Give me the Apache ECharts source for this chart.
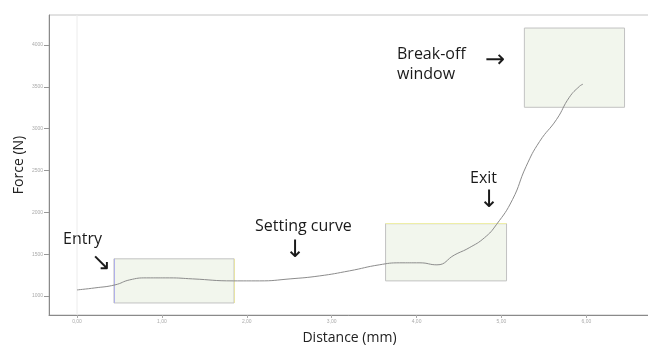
<!DOCTYPE html>
<html>
<head>
<meta charset="utf-8">
<script src="https://cdn.jsdelivr.net/npm/echarts@6/dist/echarts.min.js"></script>
<style>
html,body{margin:0;padding:0;background:#fff;}
#chart{width:648px;height:347px;}
</style>
</head>
<body>
<div id="chart"></div>
<script>
// Measured force vs. distance during the pressing cycle
const distance = [0, 0.21, 0.447, 0.62, 0.82, 1.09, 1.36, 1.84, 2.15, 2.51, 2.86, 3.21, 3.56, 3.80, 4.04, 4.24, 4.45, 4.62, 4.80, 4.94, 5.13, 5.29, 5.45, 5.65, 5.80, 5.92, 5.96];
const force    = [1072, 1096, 1132, 1192, 1216, 1216, 1204, 1180, 1180, 1204, 1240, 1300, 1372, 1396, 1396, 1372, 1492, 1576, 1696, 1852, 2152, 2548, 2848, 3112, 3376, 3508, 3532];

// Tick positions on both axes
const xTicks = [0, 1, 2, 3, 4, 5, 6];
const yTicks = [1000, 1500, 2000, 2500, 3000, 3500, 4000];

// Monitoring windows: [xFrom, yFrom, xTo, yTo]
const entryWindow    = [0.435, 916, 1.85, 1444];
const exitWindow     = [3.635, 1180, 5.06, 1864];
const breakOffWindow = [5.27, 3256, 6.45, 4204];

const labels = {
  entry: 'Entry',
  setting: 'Setting curve',
  exit: 'Exit',
  breakOff: 'Break-off\nwindow',
  xName: 'Distance (mm)',
  yName: 'Force (N)'
};

const FONT = '"Open Sans", "Noto Sans", sans-serif';
const ARROW_FONT = '24px "DejaVu Sans"';

function box(w) {
  return [{ coord: [w[0], w[1]] }, { coord: [w[2], w[3]] }];
}

const chart = echarts.init(document.getElementById('chart'), null, { renderer: 'canvas' });

chart.setOption({
  backgroundColor: '#fff',
  animation: false,
  grid: {
    left: 49, right: -2, top: 15, bottom: 32,
    outerBoundsMode: 'none',
    show: true, borderColor: '#c4c4c4', borderWidth: 1
  },
  xAxis: {
    type: 'value',
    min: -0.33, max: 6.75,
    axisLine: { show: true, onZero: false, lineStyle: { color: '#8a8a8a' } },
    axisTick: { show: true, length: 3, customValues: xTicks, lineStyle: { color: '#aaa' } },
    axisLabel: {
      customValues: xTicks, fontSize: 5, color: '#aaa', margin: 4,
      formatter: v => v.toFixed(2).replace('.', ',')
    },
    splitLine: { show: false },
    name: labels.xName, nameLocation: 'middle', nameGap: 16, nameMoveOverlap: false,
    nameTextStyle: { fontFamily: FONT, fontSize: 14, color: '#222' }
  },
  yAxis: {
    type: 'value',
    min: 772, max: 4360,
    axisLine: { show: true, onZero: false, lineStyle: { color: '#8a8a8a' } },
    axisTick: { show: true, length: 5, customValues: yTicks, lineStyle: { color: '#999' } },
    axisLabel: { customValues: yTicks, fontSize: 5, color: '#aaa', margin: 6, formatter: v => String(v) },
    splitLine: { show: false },
    name: labels.yName, nameLocation: 'middle', nameGap: 23, nameRotate: 90, nameMoveOverlap: false,
    nameTextStyle: { fontFamily: FONT, fontSize: 14, color: '#222' }
  },
  series: [
    {
      type: 'line',
      data: distance.map((d, i) => [d, force[i]]),
      smooth: 0.5,
      symbol: 'none',
      lineStyle: { color: '#8c8c8c', width: 1 },
      z: 5,
      markArea: {
        silent: true,
        itemStyle: { color: 'rgba(230,238,220,0.5)', borderColor: '#c2c2c2', borderWidth: 1 },
        data: [box(entryWindow), box(exitWindow), box(breakOffWindow)]
      },
      markLine: {
        silent: true, symbol: 'none', label: { show: false },
        data: [
          [{ coord: [entryWindow[0], entryWindow[1]], lineStyle: { color: '#b0b0ea', type: 'solid', width: 1 } },
           { coord: [entryWindow[0], entryWindow[3]] }],
          [{ coord: [entryWindow[2], entryWindow[1]], lineStyle: { color: '#e8e4a4', type: 'solid', width: 1 } },
           { coord: [entryWindow[2], entryWindow[3]] }],
          [{ coord: [exitWindow[0], exitWindow[3]], lineStyle: { color: '#eeeea6', type: 'solid', width: 1 } },
           { coord: [exitWindow[2], exitWindow[3]] }]
        ]
      }
    },
    {
      // faint vertical guide at the first tick
      type: 'line', symbol: 'none', silent: true,
      data: [[0, 772], [0, 4360]],
      lineStyle: { color: '#ececec', width: 1 }, z: 1
    }
  ],
  graphic: [
    { type: 'text', left: 63, top: 231, style: { text: labels.entry, font: '16px ' + FONT, fill: '#1a1a1a' } },
    { type: 'text', left: 91, top: 252, style: { text: '\u2198', font: ARROW_FONT, fill: '#1a1a1a' } },
    { type: 'text', left: 255, top: 218, style: { text: labels.setting, font: '16px ' + FONT, fill: '#1a1a1a' } },
    { type: 'text', left: 285, top: 239, style: { text: '\u2193', font: ARROW_FONT, fill: '#1a1a1a' } },
    { type: 'text', left: 470, top: 170, style: { text: labels.exit, font: '16px ' + FONT, fill: '#1a1a1a' } },
    { type: 'text', left: 479, top: 189, style: { text: '\u2193', font: ARROW_FONT, fill: '#1a1a1a' } },
    { type: 'text', left: 397, top: 44, style: { text: labels.breakOff, font: '16px ' + FONT, fill: '#1a1a1a', lineHeight: 20 } },
    { type: 'text', left: 485, top: 49, style: { text: '\u2192', font: ARROW_FONT, fill: '#1a1a1a' } }
  ]
});
</script>
</body>
</html>
